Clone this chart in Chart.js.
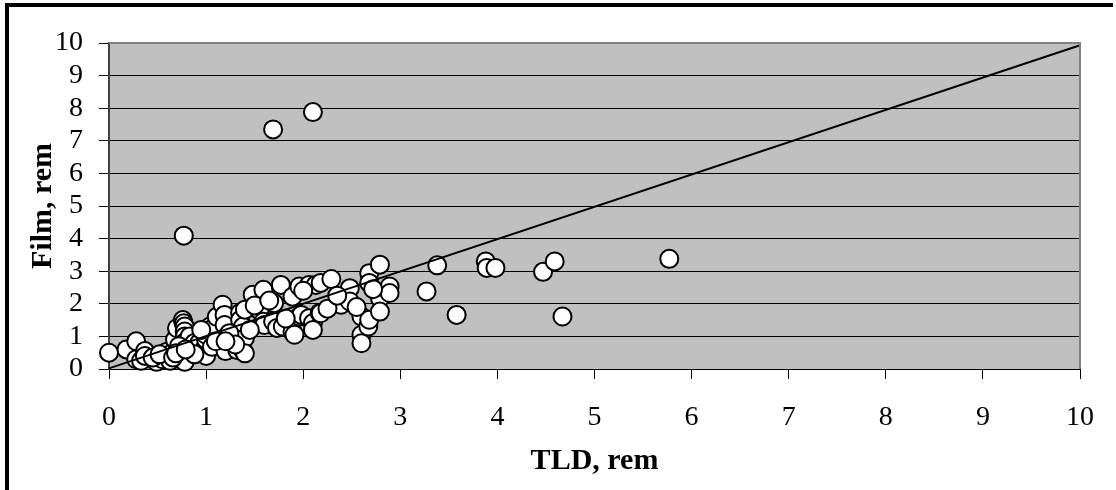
<!DOCTYPE html>
<html>
<head>
<meta charset="utf-8">
<script src="https://cdn.jsdelivr.net/npm/chart.js@4/dist/chart.umd.min.js"></script>
<style>
  body { margin: 0; background: #fff; }
  canvas { display: block; }
</style>
</head>
<body>
<canvas id="graphFilm" width="1116" height="490"></canvas>
<script>
// TLD vs film doses
const tldValues = [
  0.00, 0.18, 0.28, 0.28, 0.33, 0.37, 0.37, 0.49, 0.55, 0.59,
  0.59, 0.63, 0.66, 0.68, 0.70, 0.70, 0.76, 0.77, 0.78, 0.78,
  0.78, 0.78, 0.78, 0.78, 0.78, 0.83, 0.85, 0.88, 0.92, 0.93,
  0.99, 1.00, 1.00, 1.00, 1.04, 1.06, 1.07, 1.11, 1.17, 1.19,
  1.19, 1.19, 1.19, 1.20, 1.28, 1.32, 1.35, 1.35, 1.38, 1.38,
  1.40, 1.40, 1.40, 1.48, 1.55, 1.59, 1.59, 1.60, 1.69, 1.70,
  1.73, 1.77, 1.79, 1.89, 1.89, 1.91, 1.96, 1.96, 1.98, 2.06,
  2.06, 2.10, 2.10, 2.13, 2.17, 2.18, 2.18, 2.29, 2.39, 2.48,
  2.48, 2.60, 2.60, 2.60, 2.67, 2.68, 2.68, 2.68, 2.79, 2.79,
  2.79, 2.89, 2.89, 3.27, 3.38, 3.58, 3.88, 3.89, 3.98, 4.47,
  4.59, 4.67, 5.77, 0.77, 1.69, 2.10, 0.45, 0.52, 0.66, 0.72,
  0.88, 0.95, 1.10, 1.24, 1.30, 1.45, 1.50, 1.65, 1.82, 2.00,
  2.25, 2.35, 2.55, 2.72, 0.69, 1.20, 0.79
]
const filmValues = [
  0.50, 0.60, 0.85, 0.30, 0.25, 0.55, 0.40, 0.22, 0.30, 0.40,
  0.52, 0.25, 0.52, 0.90, 0.45, 1.25, 1.50, 1.40, 1.30, 1.15,
  1.00, 0.82, 0.60, 0.38, 0.22, 1.00, 0.58, 0.80, 0.55, 0.80,
  0.65, 0.90, 1.05, 0.40, 1.30, 0.68, 1.25, 1.60, 1.97, 1.66,
  1.35, 0.95, 0.80, 0.55, 1.00, 0.58, 1.72, 1.50, 1.30, 0.58,
  1.82, 0.95, 0.48, 2.28, 1.80, 2.43, 1.45, 1.35, 1.46, 2.02,
  1.26, 2.58, 1.30, 2.22, 1.14, 1.05, 2.53, 1.61, 1.66, 2.58,
  1.56, 1.41, 1.20, 2.58, 1.72, 2.64, 1.71, 2.76, 1.97, 2.48,
  2.07, 1.61, 1.05, 0.79, 1.30, 2.94, 2.64, 1.51, 3.20, 2.17,
  1.76, 2.53, 2.33, 2.38, 3.18, 1.66, 3.30, 3.10, 3.10, 2.98,
  3.30, 1.61, 3.38, 4.09, 7.35, 7.88, 0.35, 0.45, 0.35, 0.70,
  0.45, 1.20, 0.85, 1.10, 0.75, 1.20, 1.95, 2.10, 1.55, 2.40,
  1.85, 2.25, 1.90, 2.45, 0.48, 0.85, 0.60
]
const trendX = [0, 10]
const trendY = [0.02, 9.93]
const tickValues = [0, 1, 2, 3, 4, 5, 6, 7, 8, 9, 10]

const graphFilm = document.getElementById('graphFilm')
Chart.defaults.font.family = "'Liberation Serif', 'Times New Roman', serif"
Chart.defaults.color = '#000'

const pointsData = tldValues.map((x, i) => ({ x: x, y: filmValues[i] }))
const trendData = trendX.map((x, i) => ({ x: x, y: trendY[i] }))

const plotBackground = {
  id: 'plotBackground',
  beforeDraw(chart) {
    const { ctx, chartArea: a } = chart
    ctx.save()
    ctx.fillStyle = '#c0c0c0'
    ctx.fillRect(a.left, a.top, a.right - a.left, a.bottom - a.top)
    ctx.restore()
  },
  afterDatasetsDraw(chart) {
    const { ctx, chartArea: a } = chart
    ctx.save()
    ctx.strokeStyle = '#808080'
    ctx.lineWidth = 2
    ctx.beginPath()
    ctx.moveTo(a.left, a.top)
    ctx.lineTo(a.right, a.top)
    ctx.lineTo(a.right, a.bottom)
    ctx.stroke()
    // outer frame (left and top edges only are in view)
    ctx.fillStyle = '#000'
    ctx.fillRect(5, 3, 4, 487)
    ctx.fillRect(5, 3, 1108, 4)
    ctx.restore()
  }
}

const config = {
  type: 'scatter',
  data: {
    datasets: [
      {
        type: 'line',
        label: 'trend',
        data: trendData,
        borderColor: '#000',
        borderWidth: 2,
        pointRadius: 0,
        fill: false,
        order: 0,
        clip: false
      },
      {
        label: 'points',
        data: pointsData,
        backgroundColor: '#fff',
        borderColor: '#000',
        borderWidth: 2,
        pointRadius: 9,
        order: 1,
        clip: false
      }
    ]
  },
  options: {
    responsive: false,
    animation: false,
    layout: { padding: { left: 0, top: 43, right: 35, bottom: 0 } },
    plugins: {
      legend: { display: false },
      tooltip: { enabled: false }
    },
    scales: {
      x: {
        type: 'linear',
        min: 0,
        max: 10,
        afterBuildTicks: (scale) => { scale.ticks = tickValues.map(v => ({ value: v })) },
        afterFit: (scale) => { scale.height = 121 },
        ticks: { font: { size: 28 }, padding: 22, maxRotation: 0, autoSkip: false },
        grid: { drawOnChartArea: false, drawTicks: true, tickLength: 10, color: '#000' },
        border: { color: '#000', width: 1 },
        title: {
          display: true,
          text: 'TLD, rem',
          font: { size: 30, weight: 'bold' },
          padding: { top: 0, bottom: 11 }
        }
      },
      y: {
        type: 'linear',
        min: 0,
        max: 10,
        afterBuildTicks: (scale) => { scale.ticks = tickValues.map(v => ({ value: v })) },
        afterFit: (scale) => { scale.width = 109 },
        ticks: { font: { size: 28 }, padding: 16, autoSkip: false },
        grid: { drawTicks: true, tickLength: 10, color: '#000', lineWidth: 1 },
        border: { color: '#404040', width: 2 },
        title: {
          display: true,
          text: 'Film, rem',
          font: { size: 30, weight: 'bold' },
          padding: { top: 25, bottom: 0 }
        }
      }
    }
  },
  plugins: [plotBackground]
}

new Chart(graphFilm, config)
</script>
</body>
</html>
